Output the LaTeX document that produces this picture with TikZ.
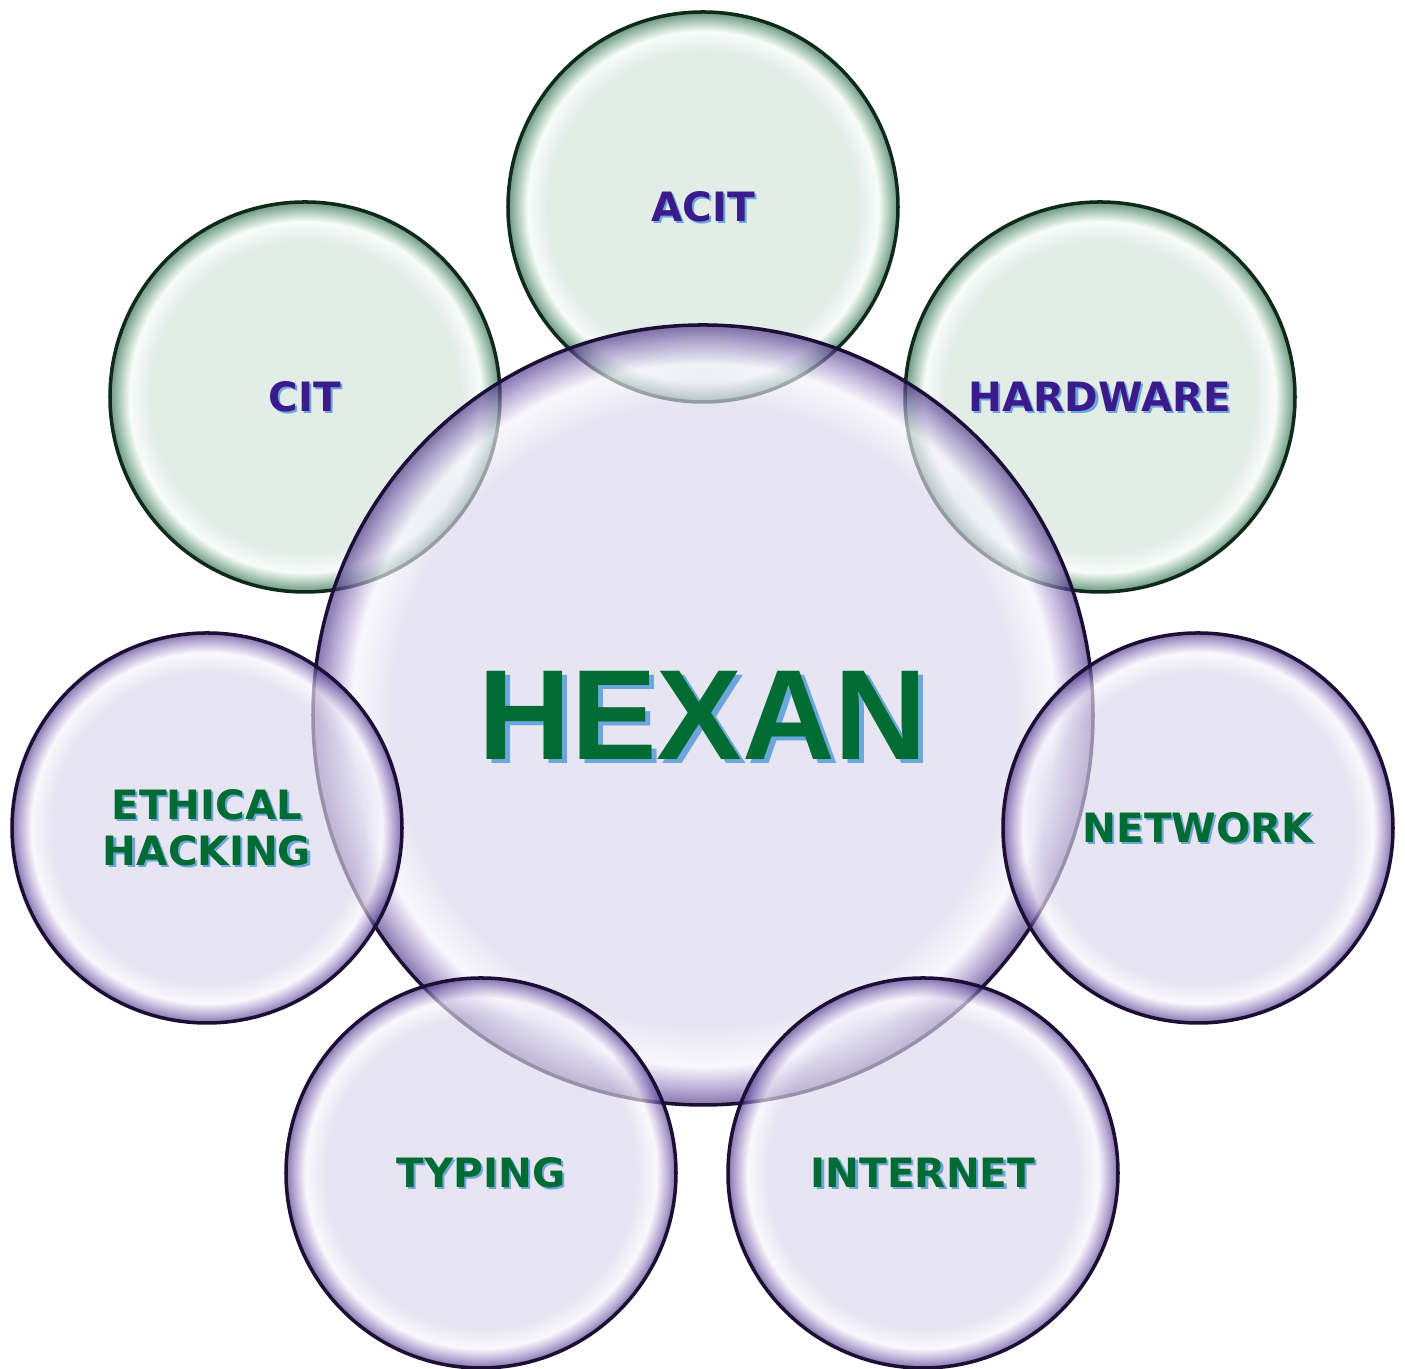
\documentclass[tikz,border=0pt]{standalone}
\usepackage{fontspec}
\newfontfamily\labelfont{DejaVu Sans}
\newfontfamily\titlefont{Liberation Sans}
\usetikzlibrary{positioning}

\definecolor{greenfill}{HTML}{D4E3DC}
\definecolor{greenhi}{HTML}{F4FBF7}
\definecolor{greenmid}{HTML}{6FA286}
\definecolor{greenedge}{HTML}{225C3C}
\definecolor{greenline}{HTML}{0E2A1A}
\definecolor{purplefill}{HTML}{DAD7EA}
\definecolor{purplehi}{HTML}{F6F4FC}
\definecolor{purplemid}{HTML}{9280BE}
\definecolor{purpleedge}{HTML}{452A80}
\definecolor{purpleline}{HTML}{1C0F36}
\definecolor{textgreen}{HTML}{006B33}
\definecolor{textpurple}{HTML}{3B1A8C}
\definecolor{textshadow}{HTML}{6CA6DC}

\pgfdeclareradialshading{greenbubble}{\pgfpoint{0bp}{0bp}}{color(0bp)=(greenfill); color(20bp)=(greenfill); color(22.5bp)=(greenhi); color(24bp)=(greenmid); color(25bp)=(greenedge); color(50bp)=(greenedge)}
\pgfdeclareradialshading{purplebubble}{\pgfpoint{0bp}{0bp}}{color(0bp)=(purplefill); color(20bp)=(purplefill); color(22.5bp)=(purplehi); color(24bp)=(purplemid); color(25bp)=(purpleedge); color(50bp)=(purpleedge)}

\begin{document}
\begin{tikzpicture}[
    greenball/.style={circle, draw=greenline, line width=1pt, shading=greenbubble, fill opacity=0.65, minimum size=3.9cm, inner sep=0pt},
    purpleball/.style={circle, draw=purpleline, line width=1pt, shading=purplebubble, fill opacity=0.65, minimum size=3.9cm, inner sep=0pt},
    hubball/.style={purpleball, minimum size=7.8cm},
    label/.style={font=\labelfont\bfseries\fontsize{11.5}{13}\selectfont, align=center, inner sep=0pt},
    labelshadow/.style={label, text=textshadow, xshift=0.6pt, yshift=-0.6pt}
]
\useasboundingbox (0,0) rectangle (14.05,13.69);

% Outer green circles
\node[greenball] (acit) at (7.03, 11.62) {};
\node[greenball] (hardware) at (11.00, 9.72) {};
\node[greenball] (cit) at (3.05, 9.72) {};

% Hub
\node[hubball] (hexan) at (7.03, 6.54) {};

% Outer purple circles
\node[purpleball] (network) at (11.98, 5.41) {};
\node[purpleball] (internet) at (9.23, 1.96) {};
\node[purpleball] (typing) at (4.81, 1.96) {};
\node[purpleball] (ethical) at (2.07, 5.41) {};

% Labels
\node[font=\titlefont\bfseries\fontsize{36.5}{40}\selectfont, text=textshadow, inner sep=0pt, xshift=1.4pt, yshift=-1.2pt] (hexan-sh) at (hexan) {HEXAN};
\node[font=\titlefont\bfseries\fontsize{36.5}{40}\selectfont, text=textgreen, inner sep=0pt] (hexan-txt) at (hexan) {HEXAN};

\node[labelshadow] (acit-sh) at (acit) {ACIT};
\node[label, text=textpurple] (acit-txt) at (acit) {ACIT};

\node[labelshadow] (hardware-sh) at (hardware) {HARDWARE};
\node[label, text=textpurple] (hardware-txt) at (hardware) {HARDWARE};

\node[labelshadow] (cit-sh) at (cit) {CIT};
\node[label, text=textpurple] (cit-txt) at (cit) {CIT};

\node[labelshadow] (network-sh) at (network) {NETWORK};
\node[label, text=textgreen] (network-txt) at (network) {NETWORK};

\node[labelshadow] (internet-sh) at (internet) {INTERNET};
\node[label, text=textgreen] (internet-txt) at (internet) {INTERNET};

\node[labelshadow] (typing-sh) at (typing) {TYPING};
\node[label, text=textgreen] (typing-txt) at (typing) {TYPING};

\node[labelshadow] (ethical-sh) at (ethical) {ETHICAL\\HACKING};
\node[label, text=textgreen] (ethical-txt) at (ethical) {ETHICAL\\HACKING};

\end{tikzpicture}
\end{document}
